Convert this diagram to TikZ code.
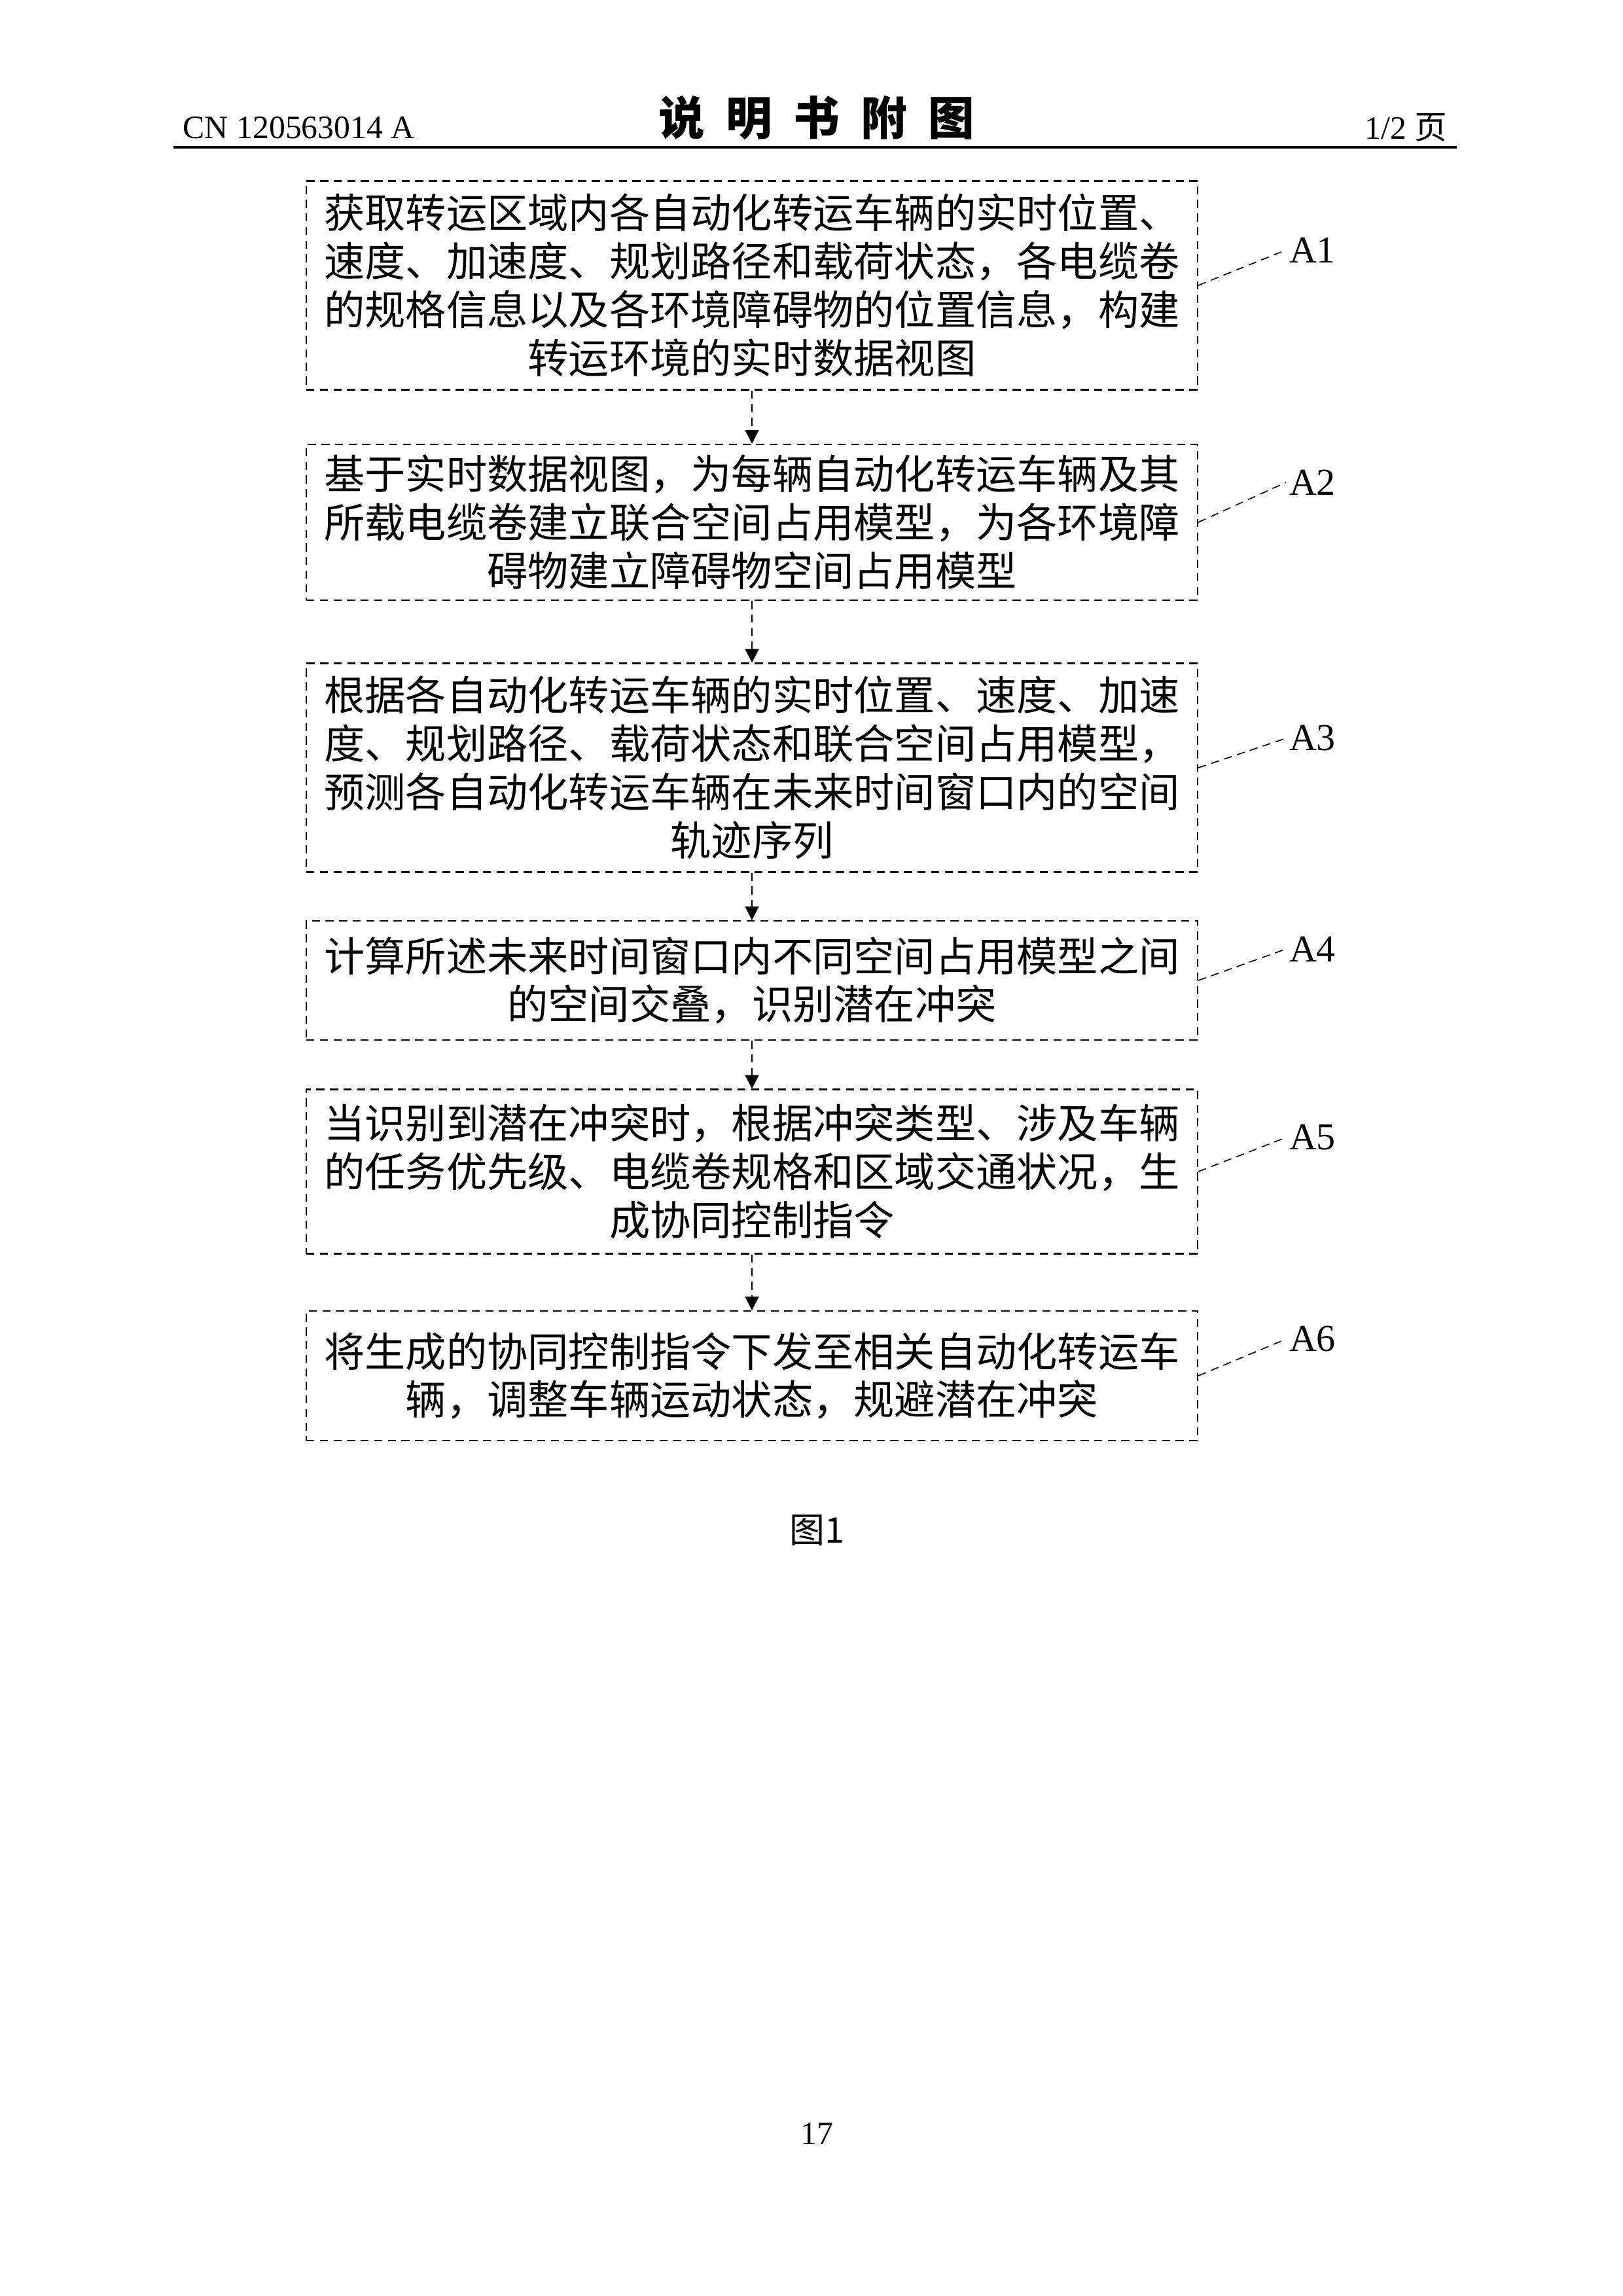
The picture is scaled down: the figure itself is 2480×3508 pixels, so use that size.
\documentclass[tikz,border=0pt]{standalone}
\usepackage{fontspec}
\setmainfont{Liberation Serif}
\newfontfamily\cjk{Noto Sans CJK SC}
\usetikzlibrary{arrows.meta}

\tikzset{
  stepbox/.style={draw, densely dashed, line width=0.5pt, minimum width=1362*0.084677mm,
    align=center, inner sep=0pt, font=\cjk\fontsize{15}{17.8}\selectfont},
  flow/.style={densely dashed, line width=0.5pt, -{Triangle[length=5pt,width=5pt]}},
  lead/.style={densely dashed, line width=0.4pt},
  tag/.style={font=\fontsize{14}{16}\selectfont, anchor=west, inner sep=1pt}
}

\begin{document}
\begin{tikzpicture}[x=0.084677mm, y=-0.084677mm]
    \useasboundingbox (0,0) rectangle (2480,3508);
    % HEADER
    \node[anchor=west, font=\fontsize{12}{14}\selectfont] (cn) at (265,195) {CN 120563014 A};
    \node[font=\cjk\bfseries\fontsize{17}{20}\selectfont] (title) at (1248,180) {说\ \ 明\ \ 书\ \ 附\ \ 图};
    \node[anchor=east, font=\fontsize{12}{14}\selectfont] (page) at (2226,195) {1/2 {\cjk 页}};
    \draw[line width=1.2pt] (265,225) -- (2226,225);
    % STEPS
    \node[stepbox, minimum height=319*0.084677mm] (b1) at (1149,436)
      {获取转运区域内各自动化转运车辆的实时位置、\\速度、加速度、规划路径和载荷状态，各电缆卷\\的规格信息以及各环境障碍物的位置信息，构建\\转运环境的实时数据视图};
    \node[stepbox, minimum height=238*0.084677mm] (b2) at (1149,798)
      {基于实时数据视图，为每辆自动化转运车辆及其\\所载电缆卷建立联合空间占用模型，为各环境障\\碍物建立障碍物空间占用模型};
    \node[stepbox, minimum height=319*0.084677mm] (b3) at (1149,1173)
      {根据各自动化转运车辆的实时位置、速度、加速\\度、规划路径、载荷状态和联合空间占用模型，\\预测各自动化转运车辆在未来时间窗口内的空间\\轨迹序列\hspace{15em}};
    \node[stepbox, minimum height=182*0.084677mm] (b4) at (1149,1498)
      {计算所述未来时间窗口内不同空间占用模型之间\\的空间交叠，识别潜在冲突\hspace{8em}};
    \node[stepbox, minimum height=251*0.084677mm] (b5) at (1149,1790)
      {当识别到潜在冲突时，根据冲突类型、涉及车辆\\的任务优先级、电缆卷规格和区域交通状况，生\\成协同控制指令};
    \node[stepbox, minimum height=198*0.084677mm] (b6) at (1149,2102)
      {将生成的协同控制指令下发至相关自动化转运车\\辆，调整车辆运动状态，规避潜在冲突};
    % arrows
    \foreach \a/\b in {b1/b2, b2/b3, b3/b4, b4/b5, b5/b6}
      \draw[flow] (\a.south) -- (\b.north);
    % LABELS
    \node[tag] (l1) at (1965,382) {A1};
    \node[tag] (l2) at (1965,737) {A2};
    \node[tag] (l3) at (1965,1128) {A3};
    \node[tag] (l4) at (1965,1450) {A4};
    \node[tag] (l5) at (1965,1738) {A5};
    \node[tag] (l6) at (1965,2046) {A6};
    \foreach \b/\l in {b1/l1, b2/l2, b3/l3, b4/l4, b5/l5, b6/l6}
      \draw[lead] (\b.east) -- (\l.west);
    % FOOTER
    \node[font=\cjk\fontsize{13}{15}\selectfont] (fig) at (1248,2338) {图1};
    \node[font=\fontsize{12}{14}\selectfont] (num) at (1248,3260) {17};
\end{tikzpicture}
\end{document}
